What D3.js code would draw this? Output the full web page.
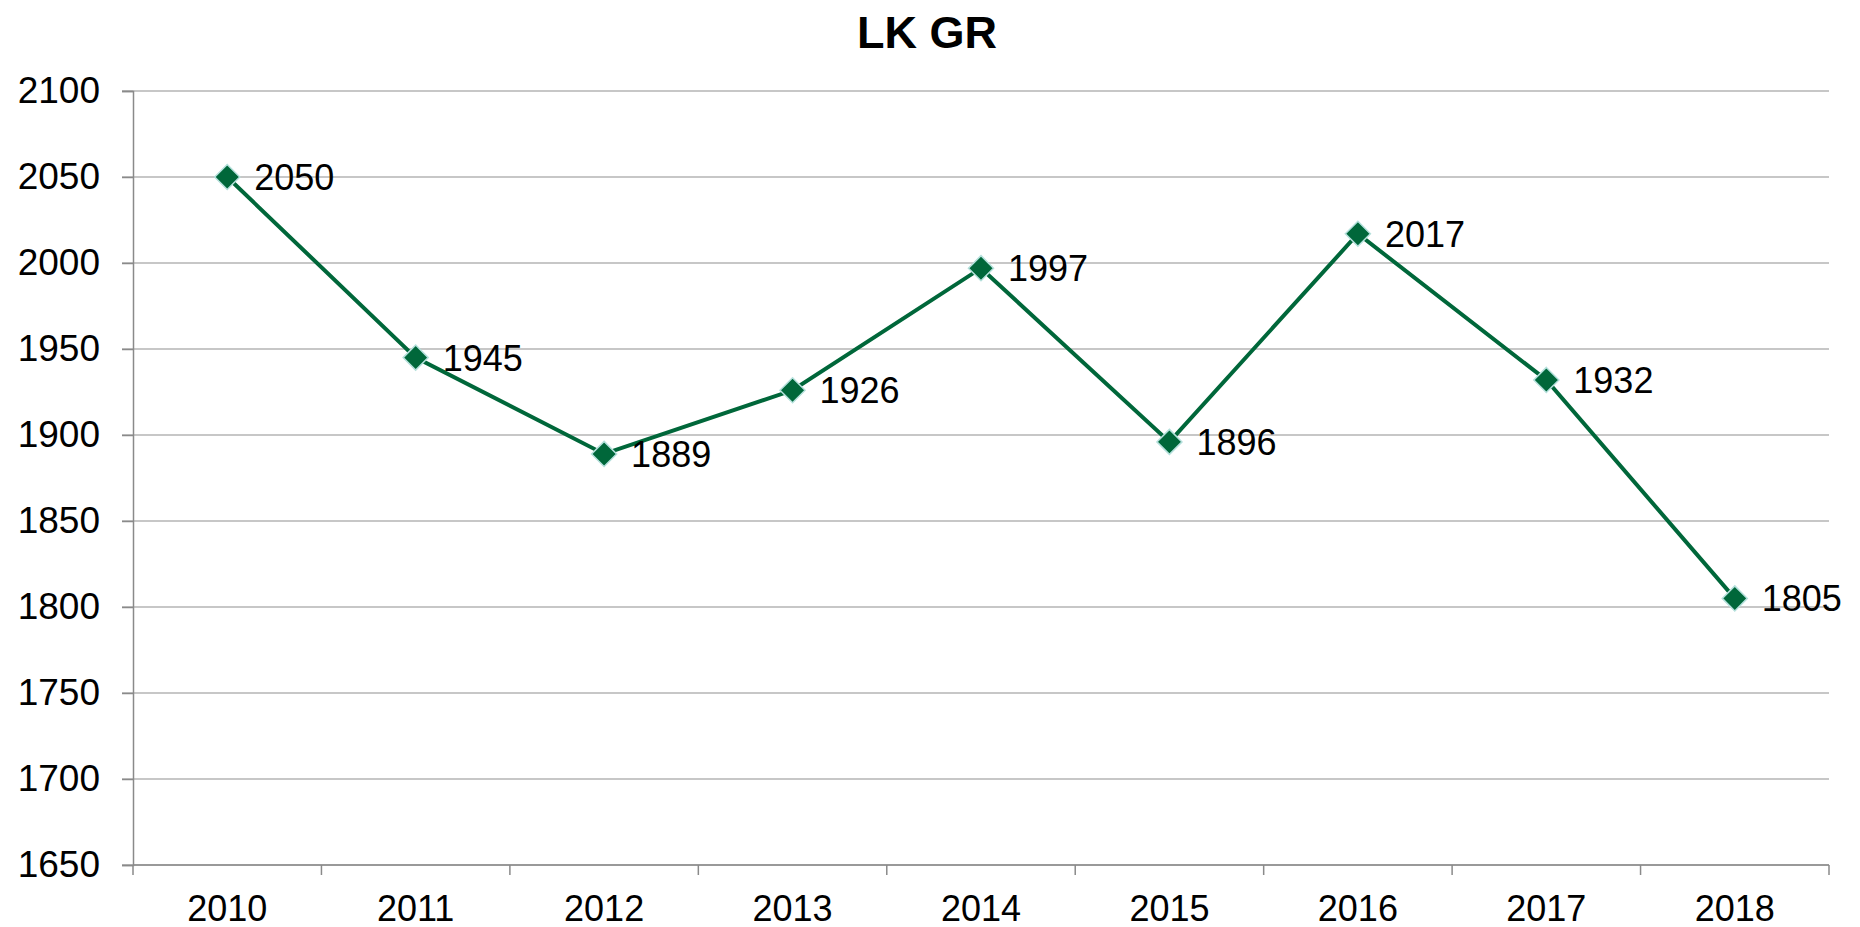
<!DOCTYPE html>
<html>
<head>
<meta charset="utf-8">
<script src="https://cdn.jsdelivr.net/npm/d3@7"></script>
<style>
  body { margin: 0; background: #fff; }
  text { font-family: "Liberation Sans", Arial, sans-serif; fill: #000; }
</style>
</head>
<body>
<svg width="1860" height="927"></svg>
<script>
const years = ["2010", "2011", "2012", "2013", "2014", "2015", "2016", "2017", "2018"];
const values = [2050, 1945, 1889, 1926, 1997, 1896, 2017, 1932, 1805];
const yTicks = [1650, 1700, 1750, 1800, 1850, 1900, 1950, 2000, 2050, 2100];
const title = "LK GR";

let svg = d3.select("svg");
let plotLeft = 133, plotRight = 1829, plotTop = 91, plotBottom = 865;

let x = d3.scaleBand()
  .domain(years)
  .range([plotLeft, plotRight]);
let y = d3.scaleLinear()
  .domain([1650, 2100])
  .range([plotBottom, plotTop]);

// gridlines
svg.append("g")
  .selectAll("line")
  .data(yTicks)
  .enter().append("line")
    .attr("x1", plotLeft - 11)
    .attr("x2", plotRight)
    .attr("y1", d => y(d))
    .attr("y2", d => y(d))
    .attr("stroke", "#8f8f8f")
    .attr("stroke-width", 1.2);

// y axis
let yAxis = svg.append("g")
  .attr("transform", `translate(${plotLeft},0)`)
  .call(d3.axisLeft(y).tickValues(yTicks).tickSize(11).tickPadding(22).tickFormat(d3.format("d")));
yAxis.selectAll("path, line").attr("stroke", "#8a8a8a").attr("stroke-width", 1.5);
yAxis.selectAll("text").attr("font-size", 37).attr("font-family", "Liberation Sans, Arial, sans-serif");

// x axis, ticks between categories
let xAxis = svg.append("g")
  .attr("transform", `translate(0,${plotBottom})`);
xAxis.append("line")
  .attr("x1", plotLeft).attr("x2", plotRight)
  .attr("stroke", "#8a8a8a").attr("stroke-width", 1.5);
xAxis.selectAll(".tk")
  .data(years.concat(["end"]))
  .enter().append("line")
    .attr("class", "tk")
    .attr("x1", (d, i) => plotLeft + i * x.step())
    .attr("x2", (d, i) => plotLeft + i * x.step())
    .attr("y1", 0).attr("y2", 10)
    .attr("stroke", "#8a8a8a").attr("stroke-width", 1.5);
xAxis.selectAll("text")
  .data(years)
  .enter().append("text")
    .attr("x", d => x(d) + x.bandwidth() / 2)
    .attr("y", 56)
    .attr("text-anchor", "middle")
    .attr("font-size", 36)
    .text(d => d);

let pts = years.map((d, i) => ({ year: d, value: values[i] }));
let cx = d => x(d.year) + x.bandwidth() / 2;

// line
svg.append("path")
  .datum(pts)
  .attr("fill", "none")
  .attr("stroke", "#00673a")
  .attr("stroke-width", 4)
  .attr("d", d3.line().x(cx).y(d => y(d.value)));

// markers
svg.append("g")
  .selectAll("path")
  .data(pts)
  .enter().append("path")
    .attr("transform", d => `translate(${cx(d)},${y(d.value)})`)
    .attr("d", d3.symbol().type(d3.symbolDiamond2).size(400))
    .attr("fill", "#00673a")
    .attr("stroke", "#b5e0dc")
    .attr("stroke-width", 1.5);

// data labels
svg.append("g")
  .selectAll("text")
  .data(pts)
  .enter().append("text")
    .attr("x", d => cx(d) + 27)
    .attr("y", d => y(d.value) + 13)
    .attr("font-size", 36)
    .text(d => d.value);

// title
svg.append("text")
  .attr("x", 927)
  .attr("y", 48)
  .attr("text-anchor", "middle")
  .attr("font-size", 45)
  .attr("font-weight", "bold")
  .text(title);
</script>
</body>
</html>
